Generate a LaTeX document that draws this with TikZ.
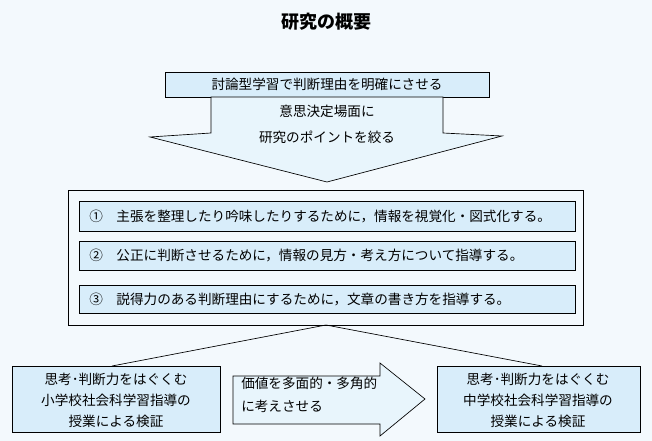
\documentclass[tikz,border=0pt]{standalone}
\usepackage{fontspec}
\setmainfont{Noto Sans CJK JP}
\begin{document}
\begin{tikzpicture}[x=0.75pt,y=-0.75pt,
  bx/.style={draw=black,line width=0.6pt,fill=boxc},
  txt/.style={font=\fontsize{10.2}{19.5}\selectfont,align=center,inner sep=0pt}]
\definecolor{bgc}{HTML}{F3F9FD}
\definecolor{boxc}{HTML}{D8EDFA}
\definecolor{arc}{HTML}{E8F5FC}
\fill[bgc] (0,0) rectangle (652,441);
\useasboundingbox (0,0) rectangle (652,441);
\node[txt,font=\fontsize{13.5}{14}\selectfont\bfseries] (title) at (326,22) {研究の概要};
\draw[bx] (165,72) rectangle (489,97);
\node[txt] (top) at (327,84.5) {討論型学習で判断理由を明確にさせる};
\draw[line width=0.5pt,fill=arc] (211,97) -- (443,97) -- (443,133) -- (502,136) -- (327,182) -- (150,137) -- (211,133) -- cycle;
\node[txt] (arr) at (327,124) {意思決定場面に\\研究のポイントを絞る};
\draw[line width=0.6pt,fill=bgc] (68,190) rectangle (583,325);
\coordinate (bc) at (326,325);
\draw[bx] (79,201) rectangle (575,231);
\draw[bx] (79,241) rectangle (575,270);
\draw[bx] (79,285) rectangle (575,313);
\node[txt,anchor=west] (i1) at (89,216) {①\hspace{1em}主張を整理したり吟味したりするために，情報を視覚化・図式化する。};
\node[txt,anchor=west] (i2) at (89,255.5) {②\hspace{1em}公正に判断させるために，情報の見方・考え方について指導する。};
\node[txt,anchor=west] (i3) at (89,299) {③\hspace{1em}説得力のある判断理由にするために，文章の書き方を指導する。};
\draw[bx] (12,366) rectangle (220,432);
\draw[bx] (437,366) rectangle (640,432);
\coordinate (lt) at (112,366);
\coordinate (rt) at (542,366);
\draw[line width=0.5pt] (lt) -- (bc) -- (rt);
\node[txt,font=\fontsize{10.2}{15.75}\selectfont] (lb) at (116,400) {思考･判断力をはぐくむ\\小学校社会科学習指導の\\授業による検証};
\node[txt,font=\fontsize{10.2}{15.75}\selectfont] (rb) at (538,400) {思考･判断力をはぐくむ\\中学校社会科学習指導の\\授業による検証};
\draw[line width=0.5pt,fill=arc] (233,376) -- (380,376) -- (380,363) -- (425,399) -- (380,436) -- (380,424) -- (233,424) -- cycle;
\node[txt,align=left,anchor=west,font=\fontsize{10.2}{17}\selectfont] (mid) at (241,395) {価値を多面的・多角的\\に考えさせる};
\end{tikzpicture}
\end{document}
